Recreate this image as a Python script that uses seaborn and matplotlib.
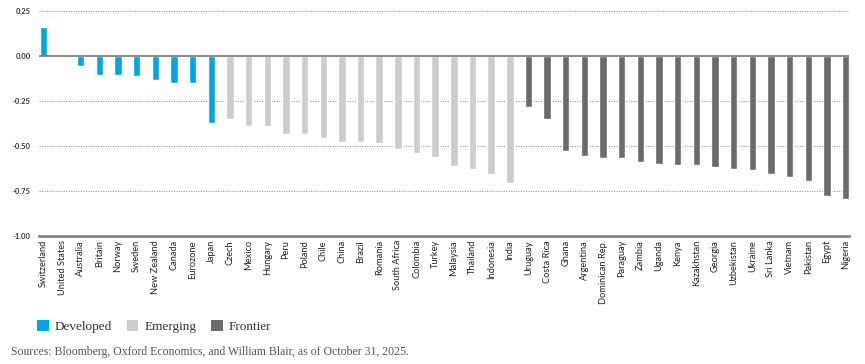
import pandas as pd
import matplotlib.pyplot as plt
import seaborn as sns
from matplotlib.patches import Patch

sns.set_theme(style="white")
plt.rcParams['font.family'] = ['Lato', 'DejaVu Sans']

developed = ["Switzerland", "United States", "Australia", "Britain", "Norway", "Sweden",
             "New Zealand", "Canada", "Eurozone", "Japan"]
developed_vals = [0.16, 0.0, -0.057, -0.104, -0.104, -0.109, -0.133, -0.152, -0.152, -0.372]

emerging = ["Czech", "Mexico", "Hungary", "Peru", "Poland", "Chile", "China", "Brazil",
            "Romania", "South Africa", "Colombia", "Turkey", "Malaysia", "Thailand",
            "Indonesia", "India"]
emerging_vals = [-0.348, -0.391, -0.391, -0.433, -0.433, -0.456, -0.476, -0.481,
                 -0.485, -0.519, -0.541, -0.559, -0.611, -0.630, -0.657, -0.709]

frontier = ["Uruguay", "Costa Rica", "Ghana", "Argentina", "Dominican Rep.", "Paraguay",
            "Zambia", "Uganda", "Kenya", "Kazakhstan", "Georgia", "Uzbekistan", "Ukraine",
            "Sri Lanka", "Vietnam", "Pakistan", "Egypt", "Nigeria"]
frontier_vals = [-0.283, -0.348, -0.531, -0.556, -0.570, -0.570, -0.589, -0.598, -0.607,
                 -0.607, -0.617, -0.630, -0.635, -0.657, -0.672, -0.696, -0.780, -0.794]

groups = ["Developed", "Emerging", "Frontier"]
colors = {"Developed": "#00A5E3", "Emerging": "#CDCDCD", "Frontier": "#6B6B6B"}

df = pd.DataFrame({
    "country": developed + emerging + frontier,
    "value": developed_vals + emerging_vals + frontier_vals,
    "group": ["Developed"] * len(developed) + ["Emerging"] * len(emerging) + ["Frontier"] * len(frontier),
})

fig = plt.figure(figsize=(8.65, 3.64), dpi=100)
ax = fig.add_axes([0.045, 0.352, 0.936, 0.623])

sns.barplot(data=df, x="country", y="value", hue="group", palette=colors, saturation=1,
            dodge=False, width=0.4, legend=False, ax=ax, zorder=3)

ax.set_ylim(-1.0, 0.26)
ax.set_xlim(-0.24, len(df) - 0.84)
ax.set_yticks([0.25, 0.0, -0.25, -0.5, -0.75, -1.0])
ax.set_yticklabels(["0.25", "0.00", "-0.25", "-0.50", "-0.75", "-1.00"])
for y in [0.25, -0.25, -0.5, -0.75]:
    ax.axhline(y, color="#999999", ls=(0, (1, 1.2)), lw=0.8, zorder=1)
ax.axhline(0, color="#777777", lw=1.2, zorder=4)

for s in ["top", "right", "left"]:
    ax.spines[s].set_visible(False)
ax.spines["bottom"].set_color("#888888")
ax.spines["bottom"].set_linewidth(2)

ax.set_xlabel("")
ax.set_ylabel("")
ax.tick_params(axis="y", length=0, pad=6, labelsize=5.5, labelcolor="#333333")
ax.tick_params(axis="x", length=0, pad=3, labelsize=6.7, labelcolor="#222222")
plt.setp(ax.get_xticklabels(), rotation=90, va="top", ha="center")
for lab in ax.get_yticklabels():
    lab.set_fontweight("bold")

handles = [Patch(facecolor=colors[g], edgecolor="none", label=g) for g in groups]
leg = fig.legend(handles=handles, loc="center left", bbox_to_anchor=(0.029, 0.103), ncol=3,
                 frameon=False, handlelength=0.9, handleheight=0.9, handletextpad=0.45,
                 columnspacing=1.1, prop={"family": "Liberation Serif", "size": 9.5})
for t in leg.get_texts():
    t.set_color("#333333")

fig.text(0.013, 0.025, "Sources: Bloomberg, Oxford Economics, and William Blair, as of October 31, 2025.",
         family="Liberation Serif", fontsize=8.5, color="#555555")

fig.savefig("out.png", dpi=100)
